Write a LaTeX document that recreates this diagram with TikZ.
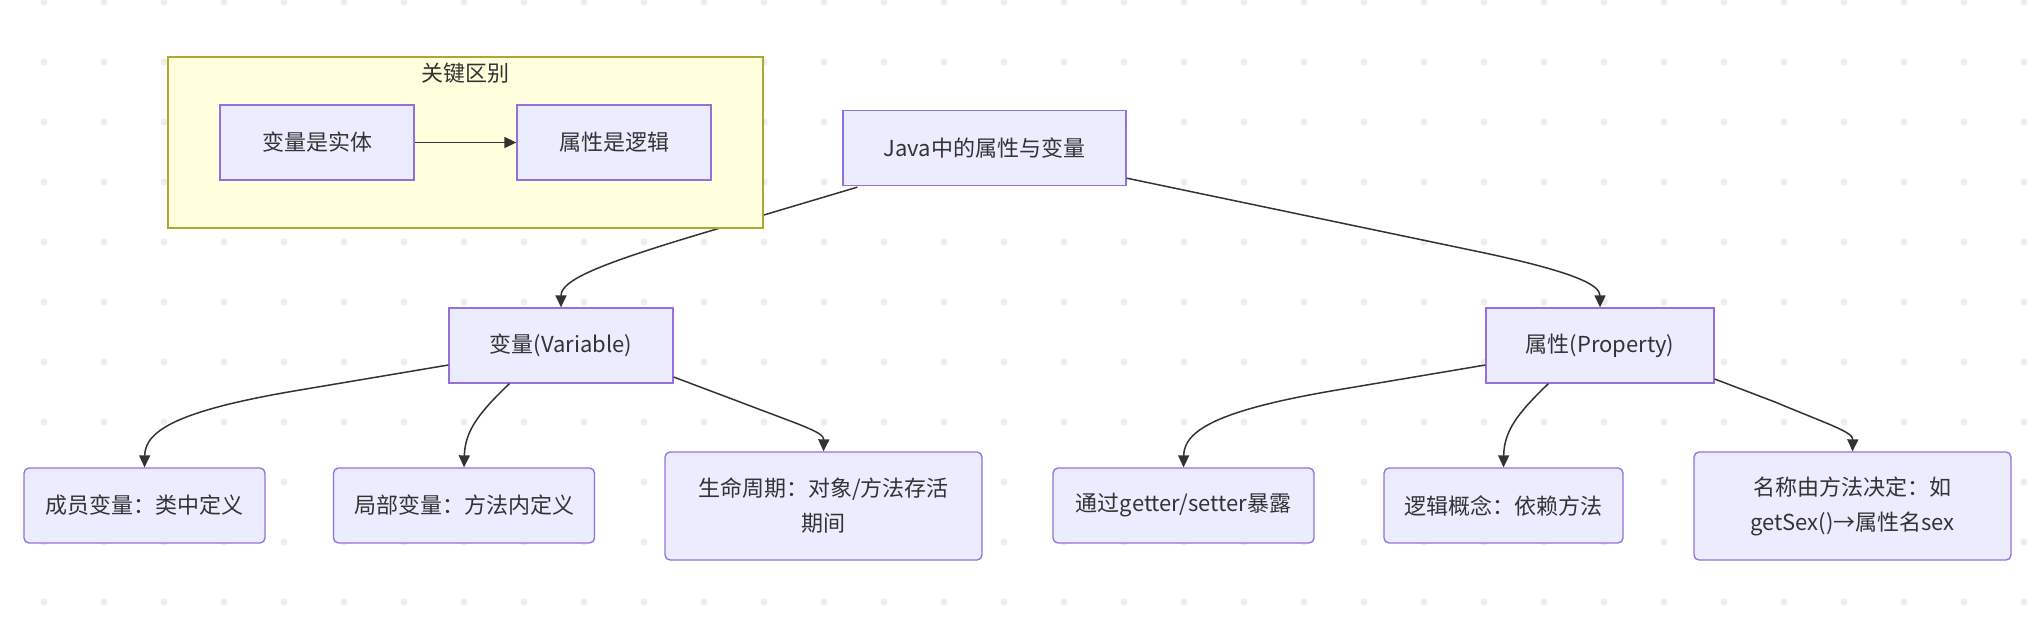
\documentclass[tikz,border=0pt]{standalone}
\usepackage{fontspec}
\setmainfont{Noto Sans CJK SC}
\usetikzlibrary{arrows.meta,calc}
\definecolor{nodefill}{HTML}{ECECFF}
\definecolor{nodeline}{HTML}{9370DB}
\definecolor{clusterfill}{HTML}{FFFFDE}
\definecolor{clusterline}{HTML}{AAAA33}
\definecolor{ink}{HTML}{333333}
\definecolor{griddot}{HTML}{EDEDED}

\begin{document}
\begin{tikzpicture}[x=1pt,y=-1pt,
  box/.style={draw=nodeline, fill=nodefill, line width=1.3pt, text=ink,
    font=\fontsize{22}{32}\selectfont, align=center, inner sep=0pt,
    minimum height=75pt},
  leaf/.style={box, rounded corners=5pt},
  link/.style={draw=ink, line width=1.5pt, -{Triangle[length=12pt,width=11pt]}},
  cluster/.style={draw=clusterline, fill=clusterfill, line width=1.3pt, inner sep=0pt}
]
\useasboundingbox (0,0) rectangle (2036,622);

% dotted background grid
\foreach \i in {0,...,33}
  \foreach \j in {0,...,10}
    \fill[griddot] (44+60*\i, 2+60*\j) circle (3.6pt);

% main nodes
\node[box, minimum width=283pt] (root) at (984.5,148) {Java中的属性与变量};
\node[box, minimum width=224pt] (var)  at (561,345.5) {变量(Variable)};
\node[box, minimum width=228pt] (prop) at (1600,345.5) {属性(Property)};

\node[leaf, minimum width=241pt] (m1) at (144.5,505.5) {成员变量：类中定义};
\node[leaf, minimum width=261pt] (m2) at (464,505.5) {局部变量：方法内定义};
\node[leaf, minimum width=317pt, minimum height=108pt] (m3) at (823.5,506)
  {生命周期：对象/方法存活\\[3pt]期间};
\node[leaf, minimum width=261pt] (p1) at (1183.5,505.5) {通过getter/setter暴露};
\node[leaf, minimum width=239pt] (p2) at (1503.5,505.5) {逻辑概念：依赖方法};
\node[leaf, minimum width=317pt, minimum height=108pt] (p3) at (1852.5,506)
  {名称由方法决定：如\\[3pt]getSex()→属性名sex};

% connectors of the main tree
\draw[link] ($(root.south west)+(15,1)$) -- (700,234)
  .. controls (600,264) and (561,280) .. (var.north);
\draw[link] ($(root.south east)+(0,-8)$) -- (1480,252)
  .. controls (1575,272) and (1600,285) .. (prop.north);

\draw[link] ($(var.west)+(0,19.5)$) -- (300,390)
  .. controls (180,410) and (145,430) .. (m1.north);
\draw[link] ($(var.south west)+(61,0)$)
  .. controls (480,412) and (465,430) .. (m2.north);
\draw[link] ($(var.east)+(0,31.5)$) -- (740,402)
  .. controls (800,425) and (824,432) .. (m3.north);

\draw[link] ($(prop.west)+(0,19.5)$) -- (1337,390)
  .. controls (1219,410) and (1184,430) .. (p1.north);
\draw[link] ($(prop.south west)+(63,0)$)
  .. controls (1519,412) and (1504,430) .. (p2.north);
\draw[link] ($(prop.east)+(0,33.5)$) -- (1775,402)
  .. controls (1830,425) and (1853,432) .. (p3.north);

% key-difference group
\node[cluster, minimum width=595pt, minimum height=171pt] (grp) at (465.5,142.5) {};
\node[text=ink, font=\fontsize{22}{32}\selectfont] (grptitle) at (465.5,73) {关键区别};
\node[box, minimum width=194pt] (k1) at (317,142.5) {变量是实体};
\node[box, minimum width=194pt] (k2) at (614,142.5) {属性是逻辑};
\draw[link] (k1.east) -- (k2.west);
\end{tikzpicture}
\end{document}
